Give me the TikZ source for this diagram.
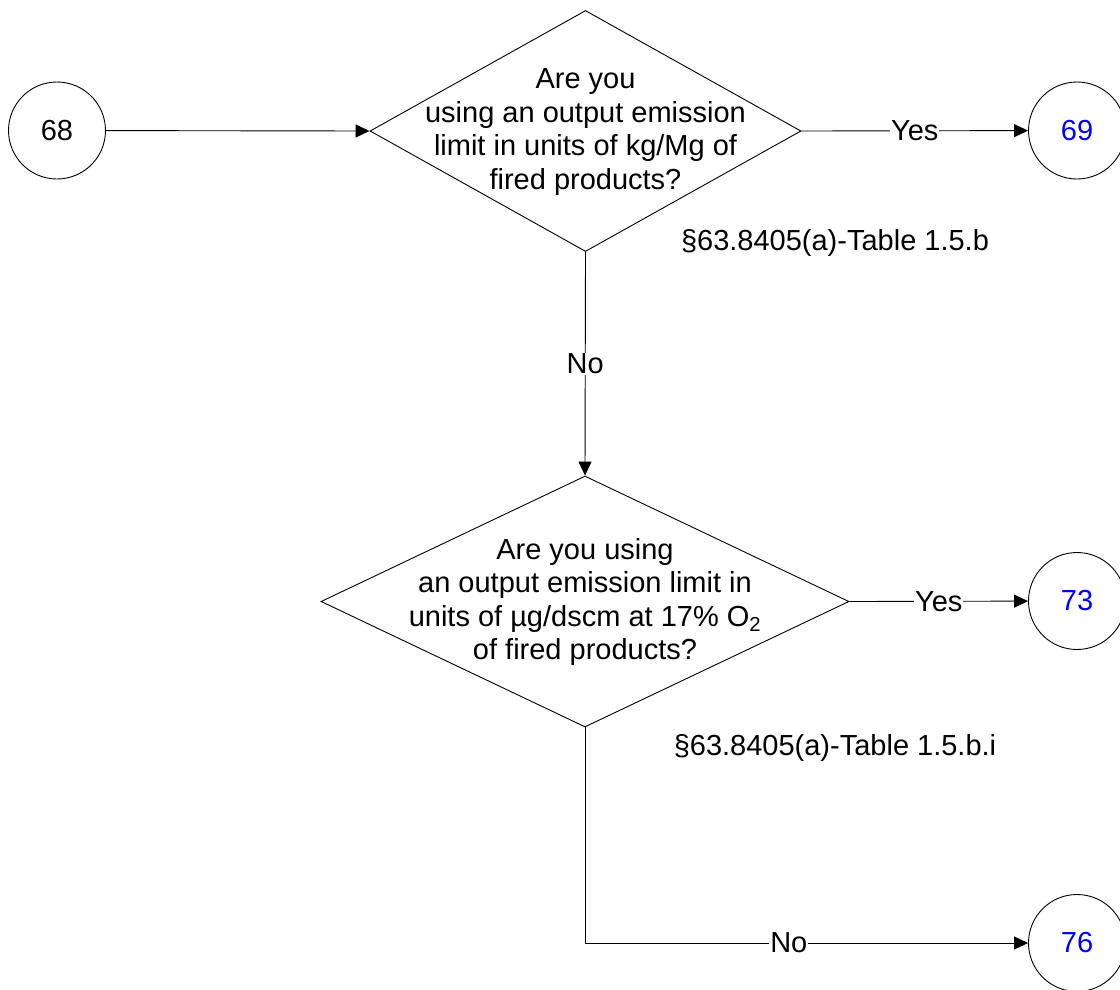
\documentclass[tikz,border=0pt]{standalone}
\usepackage{fontspec}
\setmainfont{Liberation Sans}
\usetikzlibrary{shapes.geometric,arrows.meta}
\begin{document}
\begin{tikzpicture}[x=1pt,y=-1pt,
  every node/.style={font=\fontsize{29}{33.5}\selectfont},
  conn/.style={line width=0.9pt,-{Triangle[length=14pt,width=13pt]}},
  refcircle/.style={circle,draw,line width=0.9pt,minimum size=97pt,inner sep=0pt},
  decision/.style={diamond,draw,line width=0.9pt,inner sep=0pt},
  qtext/.style={align=center,inner sep=0pt},
  lbl/.style={fill=white,inner sep=1pt},
  linkcol/.style={text=blue}
]
\useasboundingbox (0,0) rectangle (1120,989);

% off-page reference circles
\node[refcircle] (c68) at (57,130.5) {68};
\node[refcircle,linkcol] (c69) at (1077,130.5) {69};
\node[refcircle,linkcol] (c73) at (1077,601) {73};
\node[refcircle,linkcol] (c76) at (1077,943) {76};

% decisions
\node[decision,minimum width=431pt,minimum height=241pt] (d1) at (585.5,131) {};
\node[qtext] (t1) at (585.5,132) {Are you\\using an output emission\\limit in units of kg/Mg of\\fired products?};
\node (r1) at (835,243) {§63.8405(a)-Table 1.5.b};

\node[decision,minimum width=528pt,minimum height=251pt] (d2) at (585,601.5) {};
\node[qtext] (t2) at (585,602) {Are you using\\an output emission limit in\\units of µg/dscm at 17\% O\textsubscript{2}\\of fired products?};
\node (r2) at (835,748) {§63.8405(a)-Table 1.5.b.i};

% connectors
\draw[conn] (c68) -- (d1.west);
\draw[conn] (d1.east) -- node[lbl] {Yes} (c69);
\draw[conn] (d1.south) -- node[lbl] {No} (d2.north);
\draw[conn] (d2.east) -- node[lbl] {Yes} (c73);
\draw[conn] (d2.south) |- node[lbl,pos=0.73] {No} (c76);
\end{tikzpicture}
\end{document}
